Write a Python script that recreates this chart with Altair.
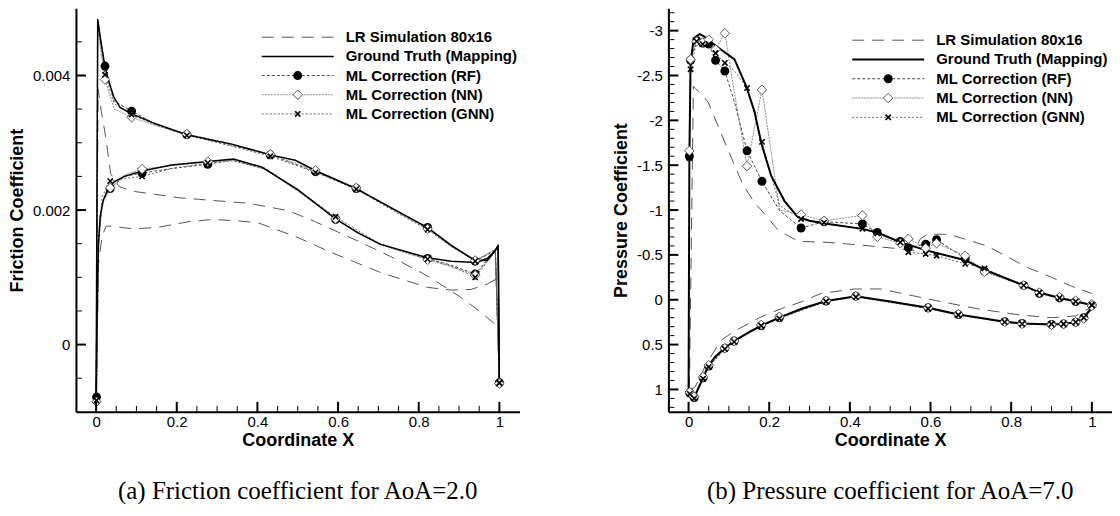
import altair as alt
import pandas as pd

# ---------------------------------------------------------------- text
LEGEND_LABELS = ["LR Simulation 80x16", "Ground Truth (Mapping)", "ML Correction (RF)",
                 "ML Correction (NN)", "ML Correction (GNN)"]
CAPTIONS = ["(a) Friction coefficient for AoA=2.0", "(b) Pressure coefficient for AoA=7.0"]
Y_TITLES = ["Friction Coefficient", "Pressure Coefficient"]
X_TITLE = "Coordinate X"

# ---------------------------------------------------------------- ticks
X_LABELS = [0, 0.2, 0.4, 0.6, 0.8, 1]
X_MINOR = [0.05, 0.1, 0.15, 0.25, 0.3, 0.35, 0.45, 0.5, 0.55, 0.65, 0.7, 0.75, 0.85, 0.9, 0.95]
CF_Y_LABELS = [0, 0.002, 0.004]
CF_Y_MINOR = [-0.0005, 0.0005, 0.001, 0.0015, 0.0025, 0.003, 0.0035, 0.0045]
CP_Y_LABELS = [-3, -2.5, -2, -1.5, -1, -0.5, 0, 0.5, 1]
CP_Y_MINOR = [-3.2, -3.1, -2.9, -2.8, -2.7, -2.6, -2.4, -2.3, -2.2, -2.1, -1.9, -1.8, -1.7, -1.6,
              -1.4, -1.3, -1.2, -1.1, -0.9, -0.8, -0.7, -0.6, -0.4, -0.3, -0.2, -0.1,
              0.1, 0.2, 0.3, 0.4, 0.6, 0.7, 0.8, 0.9, 1.1, 1.2]

# ---------------------------------------------------------------- (a) friction coefficient
CF_GT_UP_X = [0.0, 0.004, 0.012, 0.022, 0.032, 0.044, 0.06, 0.089, 0.14, 0.225, 0.336, 0.432,
              0.494, 0.546, 0.644, 0.748, 0.822, 0.88, 0.94, 0.97, 0.99, 0.997, 1.0]
CF_GT_UP_Y = [-0.00078, 0.00484, 0.0045, 0.00413, 0.0039, 0.00368, 0.00352, 0.00343, 0.0033,
              0.00312, 0.00298, 0.00282, 0.00274, 0.00258, 0.00232, 0.00198, 0.00174, 0.00148,
              0.00125, 0.00125, 0.0014, 0.00148, -0.00057]
CF_GT_LO_X = [0.0, 0.003, 0.006, 0.01, 0.018, 0.03, 0.045, 0.07, 0.114, 0.187, 0.277, 0.341,
              0.41, 0.501, 0.594, 0.649, 0.706, 0.822, 0.88, 0.94, 0.97, 0.99, 0.997, 1.0]
CF_GT_LO_Y = [-0.00078, 0.0008, 0.0015, 0.0019, 0.00215, 0.00232, 0.00242, 0.0025, 0.00258,
              0.00267, 0.00272, 0.00276, 0.00264, 0.0023, 0.00187, 0.00166, 0.00149, 0.00129,
              0.00124, 0.00122, 0.00128, 0.0014, 0.00146, -0.00057]
CF_LR_UP_X = [0.0, 0.005, 0.012, 0.024, 0.036, 0.057, 0.09, 0.21, 0.254, 0.378, 0.477, 0.542,
              0.649, 0.73, 0.822, 0.9, 0.95, 1.0]
CF_LR_UP_Y = [-0.0007, 0.0038, 0.0035, 0.00308, 0.00254, 0.00235, 0.00228, 0.00218, 0.00216,
              0.0021, 0.00199, 0.00183, 0.00154, 0.00131, 0.00102, 0.00072, 0.0005, 0.00025]
CF_LR_LO_X = [0.0, 0.006, 0.015, 0.025, 0.04, 0.09, 0.15, 0.233, 0.29, 0.35, 0.402, 0.501,
              0.583, 0.706, 0.822, 0.88, 0.93, 0.97, 1.0]
CF_LR_LO_Y = [-0.0007, 0.0012, 0.00162, 0.00176, 0.00176, 0.00172, 0.00174, 0.00183, 0.00186,
              0.00184, 0.00181, 0.00159, 0.00137, 0.00107, 0.00085, 0.00081, 0.00082, 0.0009,
              0.001]
CF_ML_UP_X = [0.001, 0.004, 0.022, 0.045, 0.088, 0.15, 0.225, 0.33, 0.432, 0.544, 0.645, 0.74,
              0.822, 0.88, 0.94, 0.99, 1.0]
CF_ML_UP_MARK = [0, 0, 1, 0, 1, 0, 1, 0, 1, 1, 1, 0, 1, 0, 1, 0, 1]
CF_RF_UP = [-0.00078, 0.0048, 0.00414, 0.00362, 0.00347, 0.00327, 0.00312, 0.00297, 0.00282,
            0.00257, 0.00232, 0.002, 0.00174, 0.00147, 0.00124, 0.0014, -0.00057]
CF_NN_UP = [-0.00085, 0.0047, 0.00394, 0.0035, 0.00338, 0.00325, 0.00313, 0.00299, 0.00283,
            0.00259, 0.00233, 0.00199, 0.00172, 0.00146, 0.00125, 0.00142, -0.00058]
CF_GNN_UP = [-0.00083, 0.0048, 0.00401, 0.00358, 0.00342, 0.00326, 0.00311, 0.00296, 0.0028,
             0.00256, 0.00231, 0.00198, 0.00171, 0.00146, 0.00124, 0.00141, -0.00057]
CF_ML_LO_X = [0.001, 0.006, 0.015, 0.035, 0.07, 0.114, 0.19, 0.277, 0.34, 0.42, 0.5, 0.594,
              0.7, 0.822, 0.88, 0.94, 0.99, 1.0]
CF_ML_LO_MARK = [1, 0, 0, 1, 0, 1, 0, 1, 0, 0, 0, 1, 0, 1, 0, 1, 0, 1]
CF_RF_LO = [-0.00078, 0.0015, 0.0021, 0.00232, 0.0025, 0.00255, 0.00262, 0.00268, 0.00275,
            0.00262, 0.0023, 0.00186, 0.0015, 0.00128, 0.00118, 0.00105, 0.0014, -0.00057]
CF_NN_LO = [-0.00085, 0.0015, 0.0021, 0.00233, 0.00252, 0.00261, 0.00266, 0.00272, 0.00274,
            0.0026, 0.00228, 0.00187, 0.00149, 0.00126, 0.00116, 0.00103, 0.00138, -0.00058]
CF_GNN_LO = [-0.00083, 0.0016, 0.0022, 0.00243, 0.00247, 0.0025, 0.00262, 0.0027, 0.00273,
             0.00261, 0.00229, 0.0019, 0.00151, 0.00127, 0.00117, 0.001, 0.00139, -0.00057]

# ---------------------------------------------------------------- (b) pressure coefficient
CP_GT_UP_X = [0.0, 0.002, 0.005, 0.012, 0.02, 0.028, 0.04, 0.053, 0.08, 0.114, 0.143, 0.164,
              0.18, 0.205, 0.238, 0.271, 0.30, 0.337, 0.431, 0.468, 0.526, 0.59, 0.686, 0.736,
              0.831, 0.87, 0.92, 0.96, 1.0]
CP_GT_UP_Y = [1.0, -1.6, -2.65, -2.88, -2.94, -2.96, -2.93, -2.88, -2.79, -2.68, -2.38, -2.09,
              -1.75, -1.38, -1.10, -0.92, -0.88, -0.85, -0.79, -0.75, -0.64, -0.55, -0.44, -0.33,
              -0.16, -0.08, -0.02, 0.02, 0.06]
CP_GT_LO_X = [0.0, 0.003, 0.014, 0.036, 0.049, 0.065, 0.089, 0.113, 0.15, 0.18, 0.225, 0.28,
              0.341, 0.415, 0.5, 0.594, 0.669, 0.784, 0.827, 0.9, 0.93, 0.96, 0.98, 0.995, 1.0]
CP_GT_LO_Y = [1.0, 1.04, 1.09, 0.87, 0.74, 0.64, 0.54, 0.46, 0.36, 0.29, 0.20, 0.10, 0.015,
              -0.04, 0.02, 0.09, 0.165, 0.245, 0.265, 0.275, 0.27, 0.25, 0.2, 0.12, 0.06]
CP_LR_UP_X = [0.002, 0.012, 0.03, 0.049, 0.081, 0.114, 0.135, 0.164, 0.18, 0.221, 0.26, 0.279,
              0.345, 0.427, 0.518, 0.559, 0.575, 0.592, 0.645, 0.682, 0.74, 0.84, 0.9, 0.95, 1.0]
CP_LR_UP_Y = [1.0, -2.38, -2.3, -2.2, -1.85, -1.5, -1.28, -1.08, -1.0, -0.78, -0.68, -0.65,
              -0.64, -0.61, -0.57, -0.55, -0.68, -0.73, -0.73, -0.68, -0.6, -0.36, -0.25, -0.15,
              -0.07]
CP_LR_LO_X = [0.002, 0.015, 0.027, 0.04, 0.053, 0.081, 0.114, 0.18, 0.23, 0.279, 0.328, 0.411,
              0.477, 0.592, 0.715, 0.822, 0.9, 0.96, 1.0]
CP_LR_LO_Y = [1.0, 0.98, 0.88, 0.75, 0.65, 0.45, 0.35, 0.19, 0.10, 0.025, -0.07, -0.12, -0.12,
              -0.01, 0.10, 0.17, 0.2, 0.18, 0.08]
CP_ML_UP_X = [0.002, 0.005, 0.02, 0.035, 0.05, 0.067, 0.09, 0.114, 0.145, 0.182, 0.226, 0.279,
              0.336, 0.431, 0.468, 0.525, 0.545, 0.588, 0.615, 0.686, 0.734, 0.831, 0.87, 0.92,
              0.96, 1.0]
CP_ML_UP_MARK = [1, 1, 1, 1, 1, 1, 1, 0, 1, 1, 0, 1, 1, 1, 1, 1, 1, 1, 1, 1, 1, 1, 1, 1, 1, 1]
CP_RF_UP = [-1.60, -2.67, -2.89, -2.86, -2.85, -2.67, -2.55, -2.2, -1.66, -1.32, -0.99, -0.80,
            -0.87, -0.845, -0.75, -0.65, -0.58, -0.62, -0.67, -0.46, -0.32, -0.16, -0.07, -0.02,
            0.02, 0.06]
CP_NN_UP = [-1.66, -2.68, -2.88, -2.87, -2.90, -2.79, -2.97, -2.3, -1.49, -2.34, -1.0, -0.95,
            -0.88, -0.94, -0.70, -0.63, -0.68, -0.575, -0.63, -0.49, -0.31, -0.16, -0.08, -0.03,
            0.01, 0.05]
CP_GNN_UP = [-1.58, -2.57, -2.88, -2.85, -2.85, -2.75, -2.64, -2.55, -2.36, -1.76, -1.05, -0.90,
             -0.86, -0.79, -0.74, -0.64, -0.53, -0.51, -0.49, -0.40, -0.35, -0.16, -0.08, -0.02,
             0.02, 0.06]
CP_ML_LO_X = [0.003, 0.014, 0.036, 0.05, 0.09, 0.113, 0.18, 0.225, 0.341, 0.415, 0.594, 0.669,
              0.784, 0.827, 0.9, 0.93, 0.96, 0.98, 1.0]
CP_ML_LO_MARK = [1] * 19
CP_RF_LO = [1.04, 1.09, 0.87, 0.74, 0.54, 0.46, 0.29, 0.20, 0.015, -0.04, 0.09, 0.165, 0.245,
            0.265, 0.275, 0.27, 0.25, 0.2, 0.06]
CP_NN_LO = [1.03, 1.08, 0.86, 0.73, 0.54, 0.46, 0.28, 0.19, 0.01, -0.04, 0.09, 0.16, 0.25, 0.27,
            0.28, 0.27, 0.25, 0.21, 0.07]
CP_GNN_LO = [1.05, 1.10, 0.88, 0.75, 0.55, 0.47, 0.29, 0.21, 0.02, -0.03, 0.10, 0.17, 0.25,
             0.27, 0.27, 0.27, 0.25, 0.2, 0.06]

# ---------------------------------------------------------------- styles
W, H = 444, 404
SANS = "Liberation Sans"
SERIF = "Liberation Serif"
LR_STYLE = dict(color="#555555", strokeWidth=1, strokeDash=[12, 8])
ML_LINE = {
    "RF": dict(color="#333333", strokeWidth=0.9, strokeDash=[3, 2]),
    "NN": dict(color="#808080", strokeWidth=0.9, strokeDash=[2, 1]),
    "GNN": dict(color="#555555", strokeWidth=0.9, strokeDash=[2, 2]),
}
MARKERS = {
    "RF": dict(shape="circle", filled=True, color="black", size=80, opacity=1),
    "NN": dict(shape="diamond", filled=True, fill="white", stroke="#555555", strokeWidth=1,
               size=90, opacity=1),
    "GNN": dict(shape="M-1,-1L1,1M-1,1L1,-1", filled=False, color="black", strokeWidth=1.6,
                size=28, opacity=1),
}


def path_df(xs, ys, surface):
    return pd.DataFrame({"x": xs, "y": ys, "surface": surface, "i": list(range(len(xs)))})


def build_panel(lr, gt, ml, y_dom, y_rev, y_labels, y_minor, y_title, caption, gt_w,
                leg_x0, leg_y0, leg_dy):
    xs = alt.Scale(domain=[-0.05, 1.05], nice=False, zero=False)
    ys = alt.Scale(domain=y_dom, nice=False, zero=False, reverse=y_rev)
    x_axis = alt.Axis(values=X_LABELS, labelExpr="toString(datum.value)", ticks=False,
                      grid=False, domainColor="black", domainWidth=2, labelPadding=3,
                      title=X_TITLE, titlePadding=2, labelFlush=False)
    y_axis = alt.Axis(values=y_labels, labelExpr="toString(datum.value)", ticks=False,
                      grid=False, domainColor="black", domainWidth=2, labelPadding=6,
                      title=y_title, titlePadding=6, labelFlush=False)
    X = alt.X("x:Q", scale=xs, axis=x_axis)
    Y = alt.Y("y:Q", scale=ys, axis=y_axis)

    layers = []
    lr_df = pd.concat([path_df(*lr[0], "up"), path_df(*lr[1], "lo")])
    layers.append(alt.Chart(lr_df).mark_line(clip=True, **LR_STYLE)
                  .encode(x=X, y=Y, detail="surface:N", order="i:Q"))
    for name in ["RF", "NN", "GNN"]:
        (ux, uy, um), (lx, ly, lm) = ml[name]
        d = pd.concat([path_df(ux, uy, "up").assign(m=um), path_df(lx, ly, "lo").assign(m=lm)])
        layers.append(alt.Chart(d).mark_line(clip=True, **ML_LINE[name])
                      .encode(x=X, y=Y, detail="surface:N", order="i:Q"))
    gt_df = pd.concat([path_df(*gt[0], "up"), path_df(*gt[1], "lo")])
    layers.append(alt.Chart(gt_df).mark_line(clip=True, color="black", strokeWidth=gt_w)
                  .encode(x=X, y=Y, detail="surface:N", order="i:Q"))
    for name in ["RF", "NN", "GNN"]:
        (ux, uy, um), (lx, ly, lm) = ml[name]
        d = pd.concat([path_df(ux, uy, "up").assign(m=um), path_df(lx, ly, "lo").assign(m=lm)])
        d = d[d["m"] == 1]
        layers.append(alt.Chart(d).mark_point(**MARKERS[name]).encode(x=X, y=Y))

    # inward ticks
    XV = alt.X("v:Q", scale=xs, axis=x_axis)
    YV = alt.Y("v:Q", scale=ys, axis=y_axis)
    layers.append(alt.Chart(pd.DataFrame({"v": X_LABELS})).mark_rule(color="black", strokeWidth=2)
                  .encode(x=XV, y=alt.value(H), y2=alt.value(H - 10)))
    layers.append(alt.Chart(pd.DataFrame({"v": X_MINOR})).mark_rule(color="black", strokeWidth=1)
                  .encode(x=XV, y=alt.value(H), y2=alt.value(H - 6)))
    layers.append(alt.Chart(pd.DataFrame({"v": y_labels})).mark_rule(color="black", strokeWidth=2)
                  .encode(y=YV, x=alt.value(0), x2=alt.value(10)))
    layers.append(alt.Chart(pd.DataFrame({"v": y_minor})).mark_rule(color="black", strokeWidth=1)
                  .encode(y=YV, x=alt.value(0), x2=alt.value(6)))

    # legend
    leg_line = [LR_STYLE, dict(color="black", strokeWidth=gt_w), ML_LINE["RF"], ML_LINE["NN"],
                ML_LINE["GNN"]]
    leg_mark = [None, None, MARKERS["RF"], MARKERS["NN"], MARKERS["GNN"]]
    for k, lab in enumerate(LEGEND_LABELS):
        yy = leg_y0 + k * leg_dy
        base = alt.Chart(pd.DataFrame({"label": [lab]}))
        layers.append(base.mark_rule(**leg_line[k])
                      .encode(x=alt.value(leg_x0), x2=alt.value(leg_x0 + 72), y=alt.value(yy)))
        if leg_mark[k] is not None:
            layers.append(base.mark_point(**leg_mark[k])
                          .encode(x=alt.value(leg_x0 + 36), y=alt.value(yy)))
        layers.append(base.mark_text(align="left", baseline="middle", font=SANS, fontSize=15,
                                     fontWeight="bold", color="black")
                      .encode(x=alt.value(leg_x0 + 84), y=alt.value(yy), text="label:N"))

    return alt.layer(*layers).properties(
        width=W, height=H,
        title=alt.TitleParams(caption, orient="bottom", frame="group", anchor="middle",
                              font=SERIF, fontSize=25, fontWeight="normal", color="black",
                              offset=29),
    )


left = build_panel(
    lr=[(CF_LR_UP_X, CF_LR_UP_Y), (CF_LR_LO_X, CF_LR_LO_Y)],
    gt=[(CF_GT_UP_X, CF_GT_UP_Y), (CF_GT_LO_X, CF_GT_LO_Y)],
    ml={
        "RF": ((CF_ML_UP_X, CF_RF_UP, CF_ML_UP_MARK), (CF_ML_LO_X, CF_RF_LO, CF_ML_LO_MARK)),
        "NN": ((CF_ML_UP_X, CF_NN_UP, CF_ML_UP_MARK), (CF_ML_LO_X, CF_NN_LO, CF_ML_LO_MARK)),
        "GNN": ((CF_ML_UP_X, CF_GNN_UP, CF_ML_UP_MARK), (CF_ML_LO_X, CF_GNN_LO, CF_ML_LO_MARK)),
    },
    y_dom=[-0.001, 0.005], y_rev=False, y_labels=CF_Y_LABELS, y_minor=CF_Y_MINOR,
    y_title=Y_TITLES[0], caption=CAPTIONS[0], gt_w=1.5, leg_x0=186, leg_y0=29, leg_dy=19.2,
)

right = build_panel(
    lr=[(CP_LR_UP_X, CP_LR_UP_Y), (CP_LR_LO_X, CP_LR_LO_Y)],
    gt=[(CP_GT_UP_X, CP_GT_UP_Y), (CP_GT_LO_X, CP_GT_LO_Y)],
    ml={
        "RF": ((CP_ML_UP_X, CP_RF_UP, CP_ML_UP_MARK), (CP_ML_LO_X, CP_RF_LO, CP_ML_LO_MARK)),
        "NN": ((CP_ML_UP_X, CP_NN_UP, CP_ML_UP_MARK), (CP_ML_LO_X, CP_NN_LO, CP_ML_LO_MARK)),
        "GNN": ((CP_ML_UP_X, CP_GNN_UP, CP_ML_UP_MARK), (CP_ML_LO_X, CP_GNN_LO, CP_ML_LO_MARK)),
    },
    y_dom=[-3.25, 1.25], y_rev=True, y_labels=CP_Y_LABELS, y_minor=CP_Y_MINOR,
    y_title=Y_TITLES[1], caption=CAPTIONS[1], gt_w=2, leg_x0=184, leg_y0=32, leg_dy=19.3,
)

chart = alt.hconcat(left, right, spacing=93).properties(
    padding={"left": 0, "top": 0, "right": 0, "bottom": 0}, background="white"
).configure_view(stroke=None).configure_axis(
    labelFont=SANS, labelFontSize=15, labelColor="black",
    titleFont=SANS, titleFontSize=18, titleFontWeight="bold", titleColor="black",
)

chart.save("out.html", embed_options={"renderer": "svg", "actions": False})
